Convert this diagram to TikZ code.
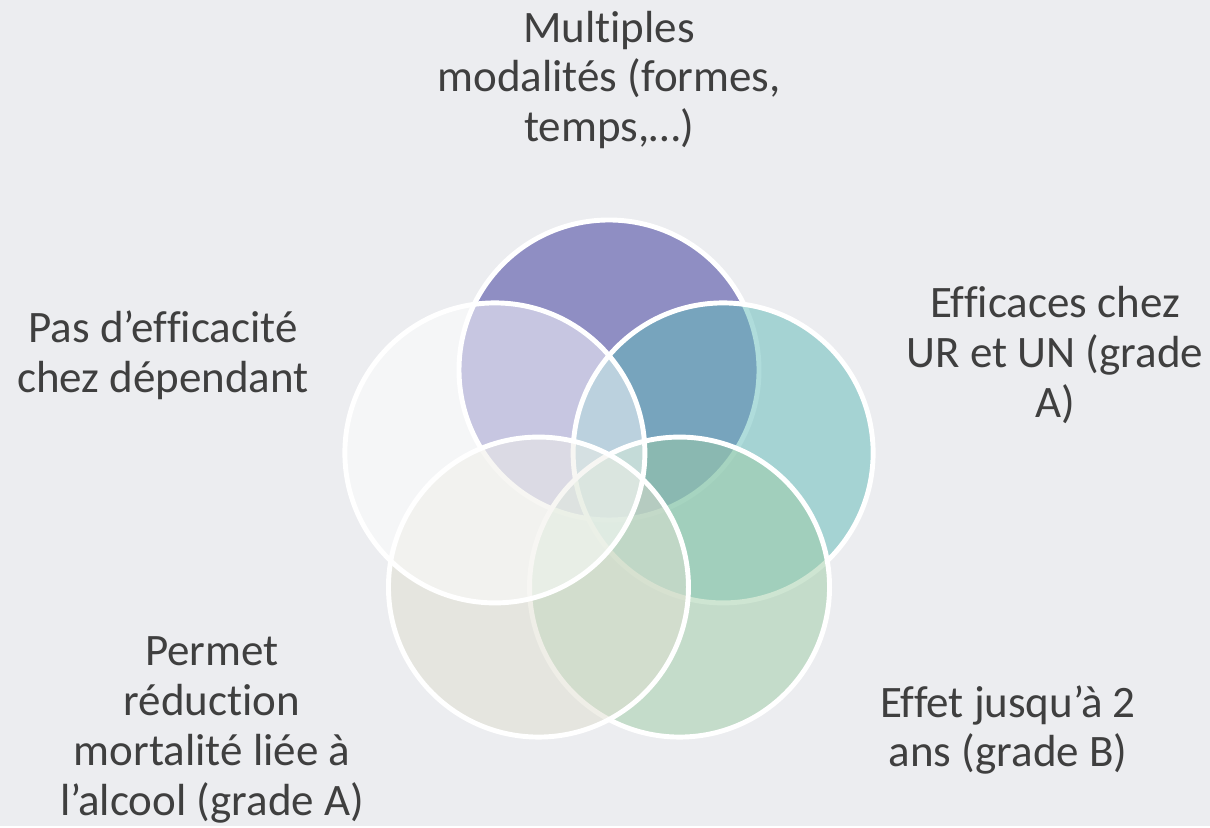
\documentclass[tikz,border=0pt]{standalone}
\usepackage{fontspec}
\setmainfont{Carlito}[Ligatures=NoCommon]
\definecolor{bgc}{HTML}{ECEDF0}
\definecolor{txt}{HTML}{3F3F3F}
\definecolor{purp}{RGB}{52,49,152}
\definecolor{teal}{RGB}{96,187,184}
\definecolor{grn}{RGB}{158,205,166}
\definecolor{sand}{RGB}{224,223,208}

\begin{document}
\begin{tikzpicture}[venn/.style={circle,draw=white,line width=3.5pt,minimum size=7.5cm,inner sep=0pt,fill opacity=0.5},
   lbl/.style={align=center,text=txt,font=\fontsize{32}{35.5}\selectfont}]
   \fill[bgc] (0,0) rectangle (30.25,20.65);
   \begin{scope}[shift={(15.225,8.4)}]
   \node[venn,fill=purp] (ctop) at (90:3cm) {};
   \node[venn,fill=teal] (cright) at (18:3cm) {};
   \node[venn,fill=grn] (cbr) at (-54:3cm) {};
   \node[venn,fill=sand] (cbl) at (-126:3cm) {};
   \node[venn,fill=white] (cleft) at (162:3cm) {};
   \end{scope}
   \node[lbl] (ltop) at (15.225,18.65) {Multiples\\modalités (formes,\\temps,…)};
   \node[lbl] (lright) at (26.375,11.775) {Efficaces chez\\UR et UN (grade\\A)};
   \node[lbl] (lbr) at (25.2,2.4) {Effet jusqu’à 2\\ans (grade B)};
   \node[lbl] (lbl) at (5.3,2.4) {Permet\\réduction\\mortalité liée à\\l’alcool (grade A)};
   \node[lbl] (lleft) at (4.075,11.775) {Pas d’efficacité\\chez dépendant};
\end{tikzpicture}
\end{document}
